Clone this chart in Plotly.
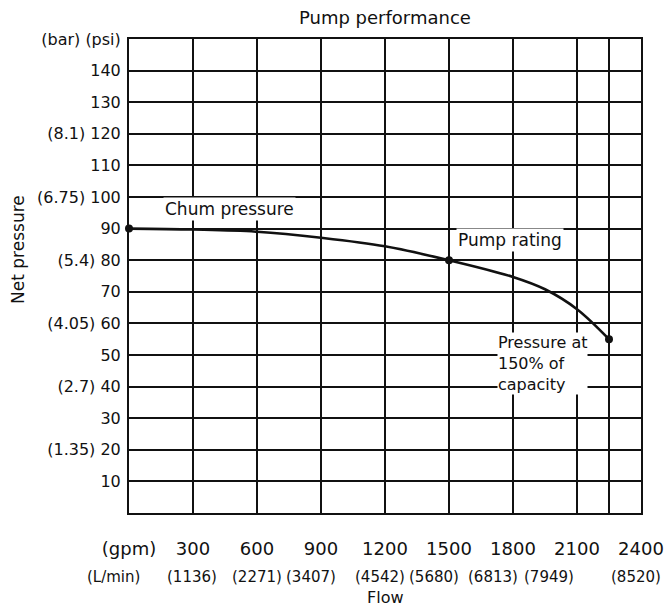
import plotly.graph_objects as go

# ---- data ----
flow_gpm = [0, 300, 600, 900, 1200, 1500, 1800, 1950, 2100, 2250]
pressure_psi = [90, 89.7, 89, 87.1, 84.4, 80, 74.7, 70.8, 64.5, 55]

key_flow = [0, 1500, 2250]
key_pressure = [90, 80, 55]

x_tickvals = [0, 300, 600, 900, 1200, 1500, 1800, 2100, 2250, 2400]
x_ticktext = ["(gpm)", "300", "600", "900", "1200", "1500", "1800", "2100", "", "2400"]

y_tickvals = [10, 20, 30, 40, 50, 60, 70, 80, 90, 100, 110, 120, 130, 140, 150]
y_ticktext = ["10", "(1.35) 20", "30", "(2.7) 40", "50", "(4.05) 60", "70",
              "(5.4) 80", "90", "(6.75) 100", "110", "(8.1) 120", "130", "140",
              "(bar) (psi)"]

lmin_labels = ["(L/min)", "(1136)", "(2271)", "(3407)", "(4542)", "(5680)",
               "(6813)", "(7949)", "(8520)"]
lmin_pos = [-75, 295, 600, 853, 1177, 1430, 1706, 1969, 2375]

FONT = "DejaVu Sans"
INK = "#111111"
XMAX = 2400

fig = go.Figure()

fig.add_trace(go.Scatter(
    x=flow_gpm, y=pressure_psi, mode="lines",
    line=dict(color=INK, width=2.6, shape="spline", smoothing=1.0),
    hoverinfo="skip", showlegend=False))

fig.add_trace(go.Scatter(
    x=key_flow, y=key_pressure, mode="markers",
    marker=dict(color=INK, size=8), showlegend=False, cliponaxis=False))

# curve annotations
fig.add_annotation(x=469, y=92.3, xref="x", yref="y", text="Chum pressure",
                   showarrow=False, bgcolor="white", yanchor="bottom",
                   font=dict(family=FONT, size=17, color=INK), borderpad=1)
fig.add_annotation(x=1785, y=82.6, xref="x", yref="y", text="Pump rating",
                   showarrow=False, bgcolor="white", yanchor="bottom",
                   font=dict(family=FONT, size=17, color=INK), borderpad=1)
fig.add_annotation(x=1725, y=47.3, xref="x", yref="y",
                   text="Pressure at<br>150% of<br>capacity",
                   showarrow=False, bgcolor="white", align="left",
                   xanchor="left", yanchor="middle",
                   font=dict(family=FONT, size=16, color=INK), borderpad=0)

# second row of x labels (L/min)
for lab, pos in zip(lmin_labels, lmin_pos):
    fig.add_annotation(x=pos / XMAX, y=0, xref="paper", yref="paper", text=lab,
                       showarrow=False, xanchor="center", yanchor="middle",
                       yshift=-64,
                       font=dict(family=FONT, size=15, color=INK))

# axis titles
fig.add_annotation(x=0.5, y=0, xref="paper", yref="paper", text="Flow",
                   showarrow=False, xanchor="center", yanchor="middle",
                   yshift=-84,
                   font=dict(family=FONT, size=16, color=INK))
fig.add_annotation(x=0, y=0.555, xref="paper", yref="paper", text="Net pressure",
                   showarrow=False, xanchor="center", yanchor="middle",
                   xshift=-111, textangle=-90,
                   font=dict(family=FONT, size=17, color=INK))

fig.update_layout(
    width=666, height=606,
    margin=dict(l=129, r=25, t=39, b=93, autoexpand=False),
    paper_bgcolor="white", plot_bgcolor="white",
    title=dict(text="Pump performance", x=0.578, xanchor="center",
               y=1 - 18 / 606, yanchor="middle", yref="container",
               font=dict(family=FONT, size=18, color=INK)),
    font=dict(family=FONT, color=INK),
)

fig.update_xaxes(range=[0, XMAX], tickvals=x_tickvals, ticktext=x_ticktext,
                 showgrid=True, gridcolor=INK, gridwidth=1.5,
                 showline=True, mirror=True, linecolor=INK, linewidth=2,
                 zeroline=False, ticks="", ticklabelstandoff=18,
                 tickfont=dict(family=FONT, size=18, color=INK),
                 automargin=False, fixedrange=True)
fig.update_yaxes(range=[0, 150], tickvals=y_tickvals, ticktext=y_ticktext,
                 showgrid=True, gridcolor=INK, gridwidth=1.5,
                 showline=True, mirror=True, linecolor=INK, linewidth=2,
                 zeroline=False, ticks="", ticklabelstandoff=3,
                 tickfont=dict(family=FONT, size=16, color=INK),
                 automargin=False, fixedrange=True)

fig.write_html("out.html")
